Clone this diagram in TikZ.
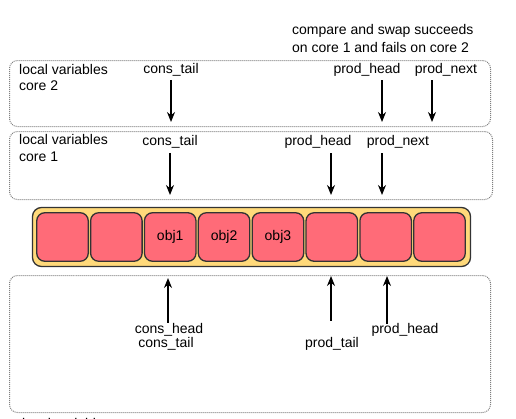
\documentclass[tikz,border=0pt]{standalone}
\usepackage{fontspec}
\setmainfont{Liberation Sans}
\usetikzlibrary{arrows.meta}
\definecolor{ringfill}{RGB}{255,217,122}
\definecolor{slotfill}{RGB}{255,107,120}
\tikzstyle{varbox} = [rectangle, rounded corners=8pt, draw=gray, line width=1pt, dash pattern=on 1pt off 1pt]
\tikzstyle{ring} = [rectangle, rounded corners=9pt, draw=black!80, line width=1.3pt, fill=ringfill, minimum width=438pt, minimum height=59pt]
\tikzstyle{slot} = [rectangle, rounded corners=8pt, draw=black!80, line width=1.3pt, fill=slotfill, minimum width=51.5pt, minimum height=48.5pt, text centered, inner sep=0pt]
\tikzstyle{lbl} = [inner sep=0pt, anchor=base]
\tikzstyle{lblw} = [inner sep=0pt, anchor=base west]
\tikzstyle{arrow} = [line width=1.3pt, -{Stealth[length=10pt,width=8pt]}]

\begin{document}
\begin{tikzpicture}[x=1pt, y=-1pt, node distance=53.86pt, font=\fontsize{14pt}{16pt}\selectfont]
\useasboundingbox (0,0) rectangle (516,418);

% boxes of local variables
\node (core2) [varbox, minimum width=481pt, minimum height=66pt] at (250,93.5) {};
\node (core1) [varbox, minimum width=483pt, minimum height=68pt] at (251,165.5) {};
\node (shared) [varbox, minimum width=481pt, minimum height=137pt] at (250,344) {};

% ring buffer
\node (ring) [ring] at (251.5,237) {};
\node (slot1) [slot] at (62.5,237) {};
\node (slot2) [slot, right of=slot1] {};
\node (slot3) [slot, right of=slot2] {obj1};
\node (slot4) [slot, right of=slot3] {obj2};
\node (slot5) [slot, right of=slot4] {obj3};
\node (slot6) [slot, right of=slot5] {};
\node (slot7) [slot, right of=slot6] {};
\node (slot8) [slot, right of=slot7] {};

\node (note1) [lblw] at (292,34) {compare and swap succeeds};
\node (note2) [lblw] at (292,52) {on core 1 and fails on core 2};

% core 2
\node (core2a) [lblw] at (19,74) {local variables};
\node (core2b) [lblw] at (19,90) {core 2};
\node (c2tail) [lbl] at (171,73) {cons\_tail};
\node (c2head) [lbl] at (367,73) {prod\_head};
\node (c2next) [lbl] at (446,73) {prod\_next};
\coordinate (c2tailtip) at (171,122);
\coordinate (c2headtip) at (382,122);
\coordinate (c2nexttip) at (432,122);
\draw [arrow] ([yshift=-4pt]c2tail.south) -- (c2tailtip);
\draw [arrow] ([yshift=-4pt]c2headtip |- c2head.south) -- (c2headtip);
\draw [arrow] ([yshift=-4pt]c2nexttip |- c2next.south) -- (c2nexttip);

% core 1
\node (core1a) [lblw] at (19,144) {local variables};
\node (core1b) [lblw] at (19,161) {core 1};
\node (c1tail) [lbl] at (170,145) {cons\_tail};
\node (c1head) [lbl] at (318,145) {prod\_head};
\node (c1next) [lbl] at (398,145) {prod\_next};
\coordinate (c1tailtip) at (170,195);
\coordinate (c1headtip) at (331,195);
\coordinate (c1nexttip) at (382,195);
\draw [arrow] ([yshift=-5pt]c1tail.south) -- (c1tailtip);
\draw [arrow] ([yshift=-5pt]c1headtip |- c1head.south) -- (c1headtip);
\draw [arrow] ([yshift=-5pt]c1nexttip |- c1next.south) -- (c1nexttip);

% shared variables
\node (conshead) [lbl] at (169,333) {cons\_head};
\node (constail) [lbl] at (166,347) {cons\_tail};
\node (prodtail) [lbl] at (332,347) {prod\_tail};
\node (prodhead) [lbl] at (405,333) {prod\_head};
\node (sharedname) [lblw] at (22,428) {local variables};
\coordinate (constip) at (168,278);
\coordinate (ptailtip) at (331,276);
\coordinate (pheadtip) at (387,276);
\draw [arrow] (constip |- conshead.north) -- (constip);
\draw [arrow] ([yshift=16pt]ptailtip |- prodtail.north) -- (ptailtip);
\draw [arrow] ([yshift=-1pt]pheadtip |- prodhead.north) -- (pheadtip);

\end{tikzpicture}
\end{document}
